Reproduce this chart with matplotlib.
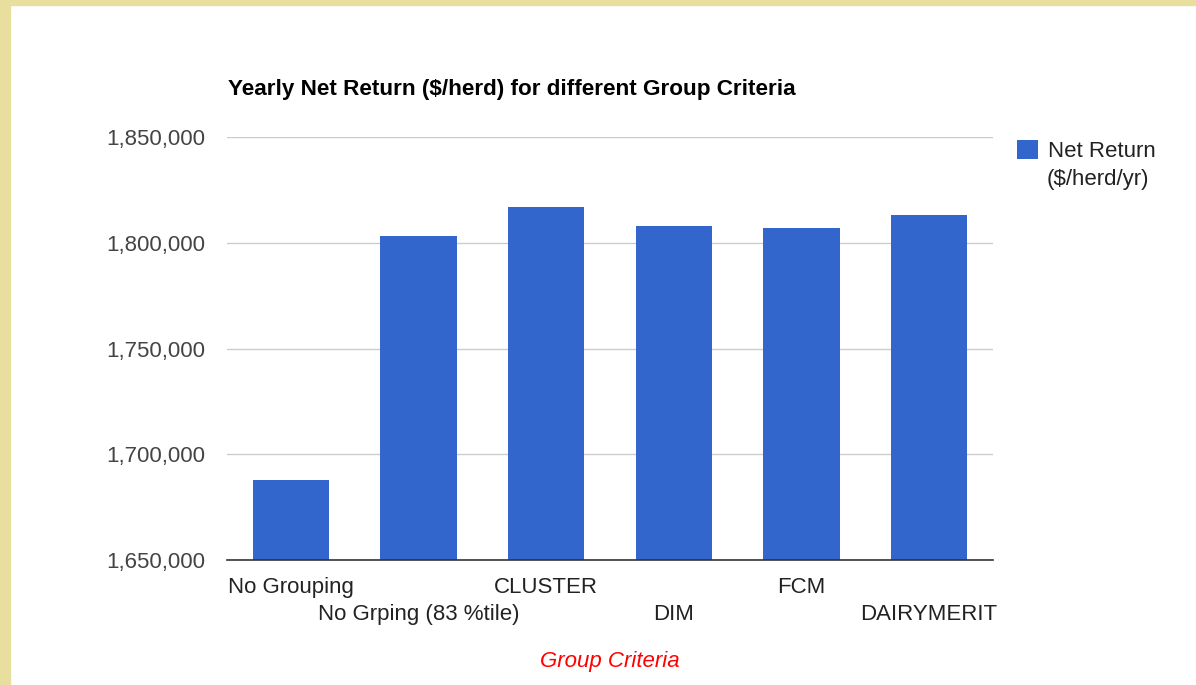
import matplotlib.pyplot as plt
from matplotlib.patches import Rectangle
from matplotlib.transforms import blended_transform_factory, offset_copy

plt.rcParams['font.family'] = ['Liberation Sans', 'DejaVu Sans']

criterios = ["No Grouping", "No Grping (83 %tile)", "CLUSTER", "DIM", "FCM", "DAIRYMERIT"]
retorno = [1688000, 1803300, 1817000, 1808000, 1807200, 1813200]
ticks_y = [1650000, 1700000, 1750000, 1800000, 1850000]

W, H = 1196, 685
fig = plt.figure(figsize=(W / 100, H / 100), dpi=100)
fig.patch.set_facecolor('white')

# marco beige a la izquierda y arriba
beige = '#e8df9f'
fig.patches.append(Rectangle((0, 0), 10 / W, 1, transform=fig.transFigure, color=beige, zorder=0))
fig.patches.append(Rectangle((0, 1 - 5 / H), 1, 5 / H, transform=fig.transFigure, color=beige, zorder=0))

x0, x1, y0, y1 = 227, 993, 137, 560
ax = fig.add_axes([x0 / W, 1 - y1 / H, (x1 - x0) / W, (y1 - y0) / H])

ax.bar(range(len(criterios)), retorno, width=0.6, color='#3366cc', zorder=2, label='Net Return')
ax.set_xlim(-0.5, len(criterios) - 0.5)
ax.set_ylim(1650000, 1850000)
ax.set_yticks(ticks_y)
ax.set_yticklabels([f"{v:,}" for v in ticks_y], fontsize=16, color='#444444')
ax.grid(axis='y', color='#cccccc', linewidth=1, zorder=0)
ax.tick_params(axis='y', length=0, pad=16)

# etiquetas en dos filas alternadas
ax.set_xticks(range(len(criterios)))
ax.set_xticklabels([c if i % 2 == 0 else "" for i, c in enumerate(criterios)],
                   fontsize=16, color='#222222')
ax.tick_params(axis='x', length=0, pad=12)
trans = offset_copy(blended_transform_factory(ax.transData, ax.transAxes),
                    fig=fig, x=0, y=-44, units='dots')
for i, c in enumerate(criterios):
    if i % 2 == 1:
        ax.text(i, 0, c, transform=trans, ha='center', va='top', fontsize=16, color='#222222')

for s in ['top', 'right', 'left']:
    ax.spines[s].set_visible(False)
ax.spines['bottom'].set_color('#333333')
ax.spines['bottom'].set_linewidth(1.2)
ax.spines['bottom'].set_zorder(3)

ax.set_xlabel('Group Criteria', fontsize=16, color='red', style='italic', labelpad=38.5)

fig.text(228 / W, 1 - 90 / H, 'Yearly Net Return ($/herd) for different Group Criteria',
         fontsize=16.2, fontweight='bold', color='black', va='center', ha='left')

ax.legend(loc='upper left', bbox_to_anchor=(997 / W, 1 - 120 / H), bbox_transform=fig.transFigure,
          frameon=False, fontsize=16, handlelength=0.95, handleheight=0.95, handletextpad=0.45,
          labelcolor='#222222')
fig.text(1047 / W, 1 - 179 / H, '($/herd/yr)', fontsize=16, color='#222222', va='center', ha='left')

fig.savefig('out.png', dpi=100)
